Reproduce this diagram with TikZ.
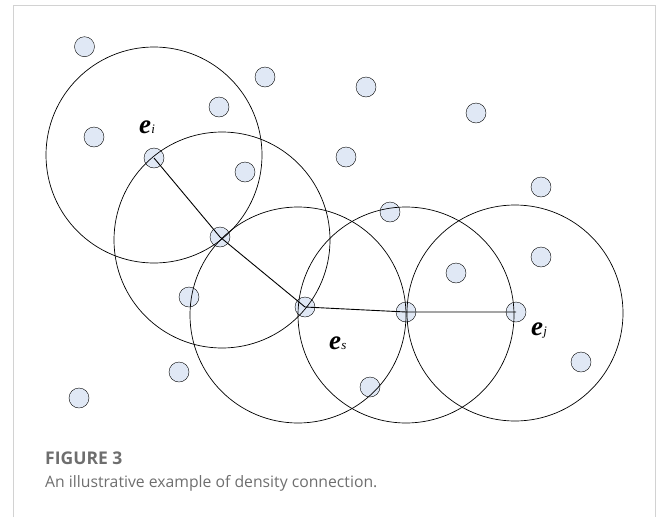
\documentclass[tikz,border=0pt]{standalone}
\usepackage{fontspec}
\setmainfont{Liberation Serif}
\newfontfamily\capfont{Open Sans}
\usepackage{tikz}
\usetikzlibrary{positioning}

\definecolor{ptfill}{RGB}{224,232,245}
\definecolor{capgray}{RGB}{110,110,110}
\definecolor{framegray}{RGB}{210,210,210}

\newcommand{\elab}[1]{{\fontsize{27}{27}\selectfont\bfseries\itshape e}\kern0.3pt{\fontsize{13}{13}\selectfont\itshape #1}}

\begin{document}
\begin{tikzpicture}[
    x=1pt, y=-1pt,
    pt/.style={circle, draw, fill=ptfill, minimum size=20pt, inner sep=0pt},
    rng/.style={draw, line width=0.7pt},
    lnk/.style={draw, line width=0.9pt},
    elbl/.style={inner sep=0pt, anchor=base west},
  ]
  \useasboundingbox (0,0) rectangle (656,517);
  \draw[framegray, line width=1.3pt] (13.5,517) -- (13.5,5.5) -- (655.5,5.5) -- (655.5,517);
  % points
  \node[pt] (p1) at (84.5,46.7) {};
  \node[pt] (p2) at (265,77) {};
  \node[pt] (p3) at (366,87) {};
  \node[pt] (p4) at (219,107) {};
  \node[pt] (p5) at (94,137) {};
  \node[pt] (p6) at (476,113) {};
  \node[pt] (ei) at (154,158) {};
  \node[pt] (p7) at (245,172) {};
  \node[pt] (p8) at (346,157) {};
  \node[pt] (p9) at (541,187) {};
  \node[pt] (ek) at (220,237) {};
  \node[pt] (p10) at (390,212) {};
  \node[pt] (p11) at (541,257) {};
  \node[pt] (p12) at (456,273) {};
  \node[pt] (p13) at (189,297) {};
  \node[pt] (es) at (305,307) {};
  \node[pt] (em) at (406,312) {};
  \node[pt] (ej) at (516,312) {};
  \node[pt] (p14) at (581,362) {};
  \node[pt] (p15) at (179,372) {};
  \node[pt] (p16) at (370,387) {};
  \node[pt] (p17) at (79,398) {};
  % eps-neighbourhoods
  \coordinate (c1) at (154,155);
  \coordinate (c2) at (222,240);
  \coordinate (c3) at (298,315);
  \coordinate (c4) at (406,315);
  \coordinate (c5) at (515,313);
  \foreach \c in {c1,c2,c3,c4,c5}
    \draw[rng] (\c) circle[radius=108];
  % chain
  \draw[lnk] (ei.center) -- (ek.center) -- (es.center) -- (em.center) -- (ej.center);
  % labels
  \node[elbl] (li) at (139,133) {\elab{i}};
  \node[elbl] (ls) at (329,349) {\elab{s}};
  \node[elbl] (lj) at (531,335) {\elab{j}};
  % caption
  \node[anchor=base west, inner sep=0pt, text=capgray] (fig) at (45,464)
    {\capfont\bfseries\fontsize{17.5}{17.5}\selectfont FIGURE 3};
  \node[anchor=base west, inner sep=0pt, text=capgray] (cap) at (45,487)
    {\capfont\fontsize{15.75}{15.75}\selectfont An illustrative example of density connection.};
\end{tikzpicture}
\end{document}
